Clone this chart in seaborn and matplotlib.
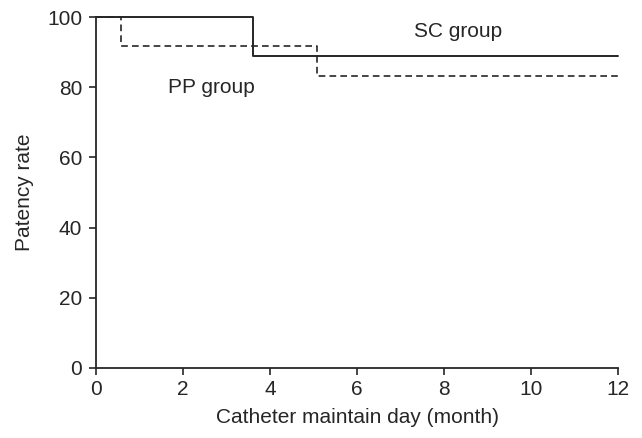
import matplotlib
matplotlib.use("Agg")
import matplotlib.pyplot as plt
import seaborn as sns
import pandas as pd

sns.set_style("ticks")
plt.rcParams['font.family'] = ['Liberation Sans', 'DejaVu Sans']

sc_time = [0, 3.6, 12]
sc_rate = [100, 88.9, 88.9]
pp_time = [0, 0.57, 5.08, 12]
pp_rate = [100, 91.7, 83.3, 83.3]

sc = pd.DataFrame({"t": sc_time, "r": sc_rate})
pp = pd.DataFrame({"t": pp_time, "r": pp_rate})

INK = "#262626"
FS = 15

fig = plt.figure(figsize=(6.42, 4.38), dpi=100)
ax = fig.add_axes([0.1495, 0.16, 0.8135, 0.801])

sns.lineplot(data=sc, x="t", y="r", ax=ax, drawstyle="steps-post",
             color=INK, linewidth=1.4, clip_on=False)
sns.lineplot(data=pp, x="t", y="r", ax=ax, drawstyle="steps-post",
             color=INK, linewidth=1.2, linestyle=(0, (4, 2.5)), clip_on=False)

ax.set_xlim(0, 12)
ax.set_ylim(0, 100)
ax.set_xticks(range(0, 13, 2))
ax.set_yticks(range(0, 101, 20))
ax.set_xlabel("Catheter maintain day (month)", fontsize=FS, color=INK, labelpad=7)
ax.set_ylabel("Patency rate", fontsize=FS, color=INK, labelpad=9)
ax.tick_params(labelsize=FS, colors=INK, length=5, width=1.2)
ax.tick_params(axis="x", pad=3.5)
ax.tick_params(axis="y", pad=5)
for s in ["top", "right"]:
    ax.spines[s].set_visible(False)
for s in ["left", "bottom"]:
    ax.spines[s].set_linewidth(1.3)
    ax.spines[s].set_color(INK)

ax.text(8.31, 94.4, "SC group", fontsize=FS, ha="center", va="baseline", color=INK)
ax.text(2.655, 78.5, "PP group", fontsize=FS, ha="center", va="baseline", color=INK)

fig.savefig("out.png", dpi=100)
